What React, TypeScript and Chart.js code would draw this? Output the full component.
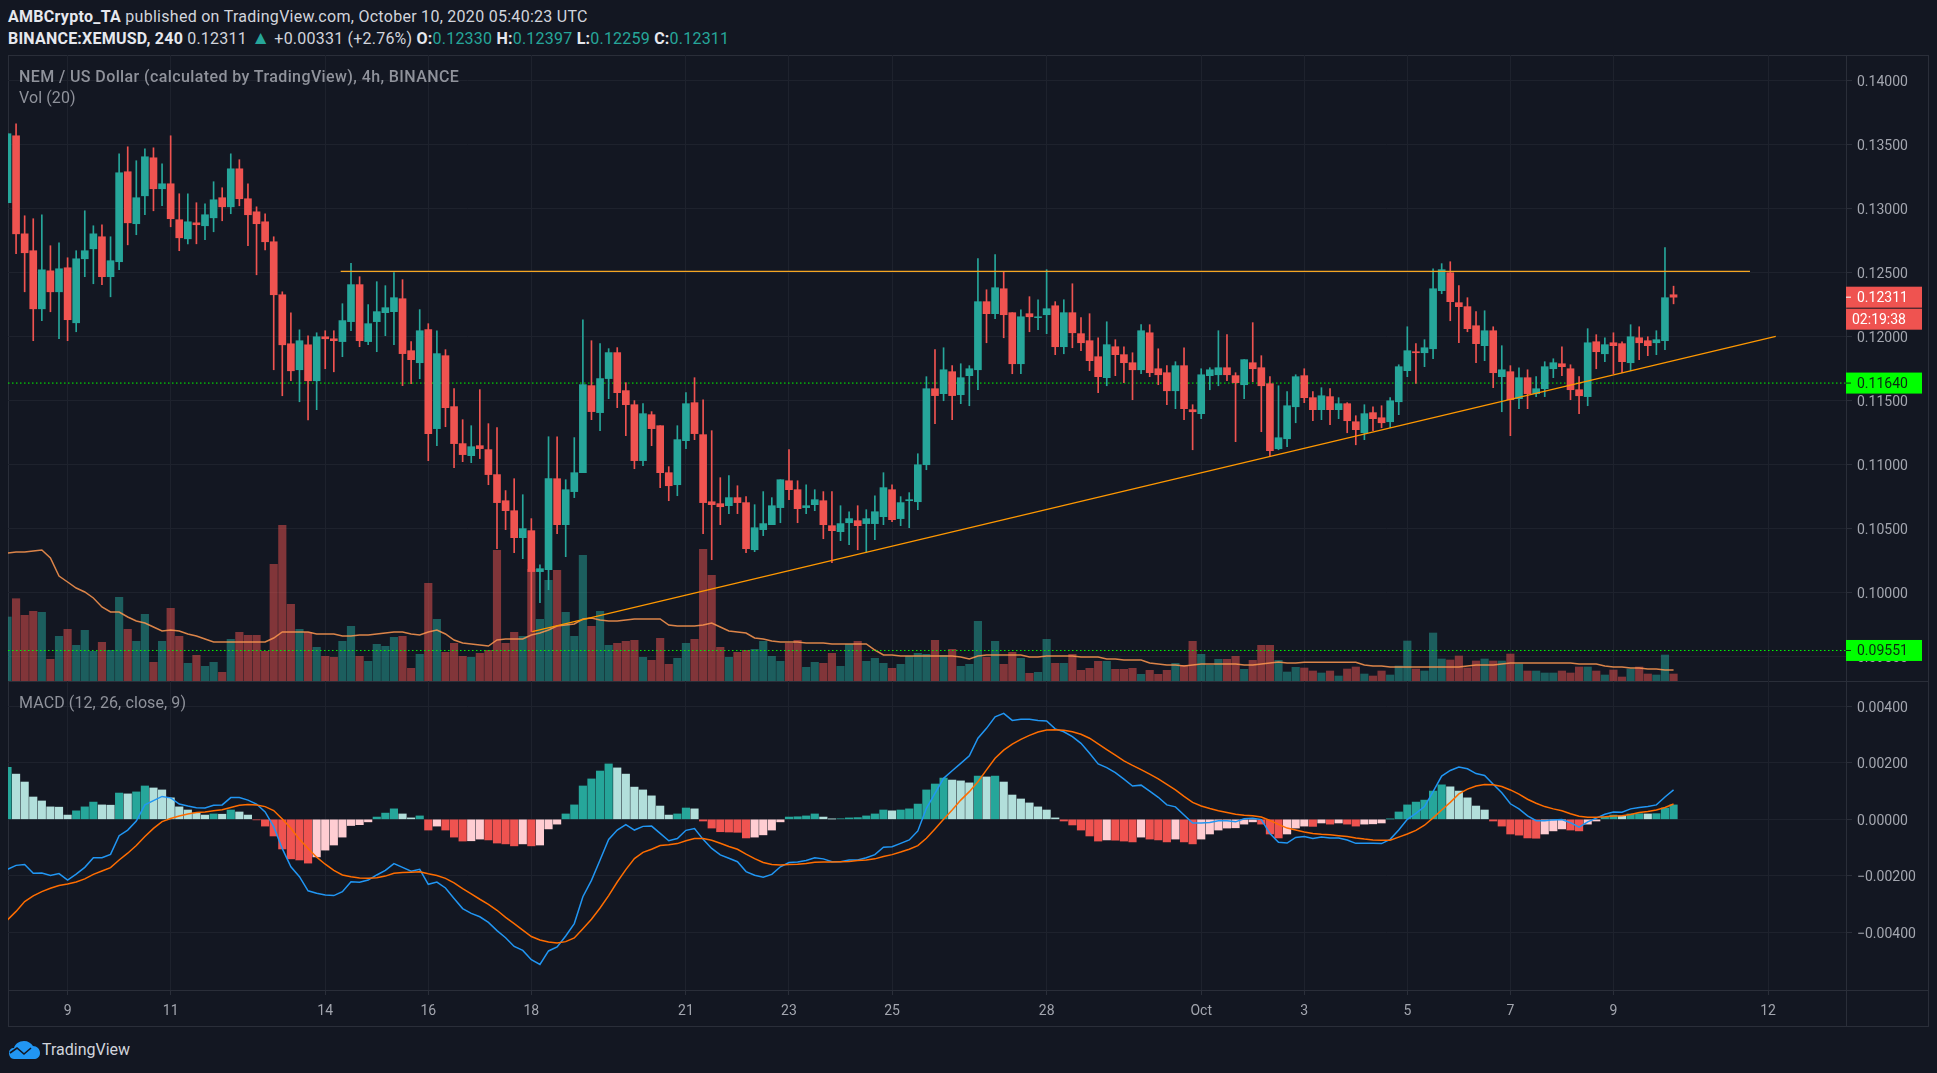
// App.tsx - NEM / US Dollar 4h chart with volume and MACD panes
import { useEffect, useRef } from 'react'
import { Chart, registerables } from 'chart.js'

Chart.register(...registerables)

// prices and MACD are kept in units of 0.00001 (the quote's fifth decimal)
const opens = [
  13049, 13572, 12806, 12674, 12220, 12517, 12353, 12541, 12111, 12611,
  12689, 12783, 12471, 12588, 13291, 12885, 13103, 13400, 13158, 13197,
  12916, 12767, 12892, 12869, 12931, 13088, 13017, 13314, 13080, 12978,
  12900, 12744, 12330, 11947, 11744, 11939, 11658, 12002, 11986, 11964,
  12120, 12409, 11964, 12120, 12190, 12198, 12299, 11893, 11799, 12057,
  11284, 11854, 11456, 11167, 11073, 11151, 11120, 10925, 10721, 10643,
  10432, 10487, 10167, 10182, 10893, 10534, 10792, 10940, 11620, 11409,
  11675, 11878, 11581, 11471, 11034, 11393, 11307, 10940, 10846, 11190,
  11487, 11237, 10713, 10698, 10682, 10745, 10706, 10338, 10495, 10534,
  10667, 10877, 10807, 10667, 10690, 10721, 10526, 10479, 10549, 10565,
  10542, 10542, 10596, 10807, 10581, 10721, 10713, 11002, 11596, 11557,
  11729, 11549, 11698, 11744, 12276, 12182, 12377, 12190, 11791, 12182,
  12151, 12174, 12244, 11924, 12190, 12026, 11971, 11846, 11682, 11924,
  11862, 11799, 11744, 12033, 11752, 11721, 11580, 11776, 11432, 11401,
  11698, 11705, 11760, 11698, 11627, 11799, 11760, 11635, 11127, 11205,
  11455, 11698, 11526, 11432, 11534, 11432, 11479, 11338, 11252, 11409,
  11369, 11338, 11494, 11737, 11885, 11877, 11908, 12362, 12502, 12268,
  12237, 12088, 11932, 12049, 11690, 11729, 11518, 11682, 11557, 11596,
  11752, 11791, 11752, 11588, 11534, 11963, 11869, 11955, 11948, 11799,
  11994, 11971, 11955, 11971, 12330,
]
const closes = [
  13588, 12806, 12658, 12220, 12525, 12353, 12533, 12135, 12611, 12674,
  12806, 12471, 12596, 13283, 12892, 13088, 13408, 13158, 13197, 12924,
  12775, 12900, 12877, 12955, 13072, 13017, 13314, 13080, 12955, 12885,
  12744, 12330, 11939, 11736, 11971, 11658, 12002, 11986, 11971, 12128,
  12409, 11971, 12104, 12198, 12229, 12307, 11870, 11823, 12049, 11245,
  11870, 11448, 11167, 11081, 11143, 11128, 10925, 10706, 10643, 10432,
  10503, 10167, 10190, 10893, 10534, 10807, 10940, 11628, 11417, 11675,
  11878, 11565, 11471, 11034, 11401, 11284, 10940, 10838, 11198, 11479,
  11245, 10706, 10690, 10674, 10745, 10706, 10346, 10510, 10542, 10682,
  10885, 10807, 10659, 10682, 10729, 10534, 10487, 10542, 10581, 10526,
  10581, 10635, 10823, 10573, 10706, 10729, 11002, 11596, 11542, 11744,
  11542, 11682, 11752, 12276, 12182, 12385, 12174, 11791, 12158, 12158,
  12158, 12221, 11924, 12190, 12033, 11955, 11815, 11690, 11940, 11862,
  11799, 11744, 12049, 11721, 11705, 11580, 11776, 11440, 11416, 11705,
  11744, 11760, 11705, 11643, 11823, 11752, 11619, 11112, 11213, 11463,
  11690, 11526, 11432, 11541, 11432, 11479, 11346, 11276, 11401, 11362,
  11330, 11502, 11768, 11893, 11877, 11916, 12377, 12526, 12276, 12237,
  12065, 11948, 12049, 11721, 11744, 11510, 11682, 11557, 11596, 11768,
  11799, 11768, 11588, 11541, 11955, 11885, 11940, 11932, 11807, 12002,
  11955, 11932, 11979, 12307, 12311,
]
const highs = [
  13588, 13666, 12947, 12924, 12955, 12713, 12736, 12619, 12674, 12986,
  12869, 12877, 12783, 13431, 13486, 13377, 13470, 13478, 13353, 13572,
  13119, 13119, 13049, 13041, 13213, 13166, 13431, 13385, 13197, 13017,
  12963, 12783, 12353, 12189, 12056, 12010, 12033, 12049, 12049, 12260,
  12576, 12471, 12253, 12432, 12401, 12503, 12448, 11964, 12214, 12104,
  12049, 11901, 11596, 11354, 11307, 11589, 11323, 11292, 10800, 10893,
  10768, 10581, 10221, 11221, 11221, 10885, 11214, 12135, 11971, 11948,
  11909, 11917, 11643, 11503, 11479, 11417, 11307, 10987, 11307, 11565,
  11682, 11510, 11268, 10901, 10917, 10838, 10753, 10690, 10792, 10745,
  10885, 11120, 10877, 10846, 10807, 10792, 10792, 10682, 10635, 10682,
  10651, 10760, 10940, 10846, 10753, 10784, 11088, 11690, 11901, 11916,
  11776, 11791, 11776, 12612, 12369, 12643, 12510, 12190, 12213, 12315,
  12291, 12526, 12276, 12291, 12416, 12151, 12182, 11994, 12119, 11979,
  11924, 11877, 12096, 12096, 11908, 11776, 11807, 11916, 11471, 11752,
  11760, 12049, 12018, 11721, 11823, 12112, 11854, 11690, 11619, 11573,
  11705, 11752, 11573, 11604, 11596, 11526, 11487, 11385, 11471, 11455,
  11463, 11526, 11783, 12080, 11948, 11979, 12533, 12573, 12588, 12401,
  12307, 12198, 12205, 12080, 11932, 11776, 11760, 11744, 11690, 11807,
  11830, 11924, 11783, 11690, 12065, 12018, 11994, 12033, 11963, 12096,
  12080, 12002, 12049, 12698, 12397,
]
const lows = [
  13049, 12650, 12353, 11971, 12127, 12197, 11986, 11971, 12041, 12471,
  12416, 12408, 12314, 12525, 12720, 12799, 12955, 12986, 13025, 12861,
  12674, 12728, 12728, 12760, 12822, 12908, 12963, 13025, 12713, 12486,
  12681, 11744, 11541, 11658, 11494, 11353, 11432, 11752, 11728, 11846,
  12049, 11924, 11940, 11885, 12010, 11940, 11620, 11635, 11674, 11034,
  11151, 11299, 10979, 11026, 11018, 11050, 10846, 10346, 10495, 10315,
  10268, 9698, 9925, 10026, 10464, 10284, 10745, 10940, 11354, 11268,
  11518, 11448, 11229, 10971, 10995, 11151, 10823, 10721, 10760, 11127,
  11198, 10463, 10260, 10534, 10620, 10620, 10315, 10323, 10448, 10534,
  10549, 10729, 10549, 10620, 10643, 10424, 10237, 10409, 10378, 10338,
  10315, 10417, 10534, 10557, 10526, 10510, 10651, 10963, 11323, 11502,
  11354, 11479, 11463, 11588, 11955, 12143, 11994, 11713, 11713, 12041,
  12057, 12026, 11862, 11869, 11916, 11893, 11737, 11565, 11619, 11698,
  11643, 11510, 11713, 11690, 11627, 11471, 11440, 11354, 11119, 11362,
  11588, 11619, 11658, 11182, 11518, 11651, 11260, 11067, 11119, 11143,
  11330, 11487, 11346, 11354, 11315, 11362, 11252, 11158, 11198, 11268,
  11291, 11291, 11393, 11690, 11638, 11768, 11830, 12338, 12127, 11955,
  12041, 11799, 11815, 11604, 11416, 11229, 11440, 11440, 11534, 11534,
  11682, 11698, 11510, 11401, 11463, 11752, 11807, 11713, 11721, 11737,
  11823, 11854, 11862, 11901, 12259,
]
// relative volume, the pane shows no axis for it
const volumes = [
  64, 82.3, 65.7, 69.7, 68.7, 21.7, 44.7, 51.7, 35.7, 50.7,
  29.7, 38.7, 30.7, 83.7, 51.7, 39.7, 66.7, 18.7, 39.7, 72.7,
  44.7, 17.7, 25.7, 14.7, 18.7, 8.7, 41.7, 48.7, 45.7, 45.7,
  29.7, 116.7, 155.7, 76.7, 51.7, 48.7, 33.7, 24.7, 23.7, 39.7,
  54.7, 24.7, 19.7, 36.7, 34.7, 43.7, 44.7, 12.7, 26.7, 97.7,
  61.7, 28.7, 37.7, 24.7, 23.7, 27.7, 30.7, 130.7, 37.7, 48.7,
  44.7, 111.7, 61.7, 100.7, 110.7, 68.7, 44.7, 125.7, 54.7, 69.7,
  35.7, 37.7, 39.7, 40.7, 23.7, 20.7, 42.7, 16.7, 22.7, 37.7,
  41.7, 131.7, 105.7, 33.7, 23.7, 28.7, 30.7, 31.7, 39.7, 24.7,
  19.7, 37.7, 40.7, 13.7, 18.7, 17.7, 27.7, 14.7, 36.7, 39.7,
  19.7, 22.7, 17.7, 12.7, 16.7, 24.7, 27.7, 26.7, 40.7, 25.7,
  31.7, 14.7, 16.7, 59.7, 23.7, 39.7, 16.7, 28.7, 22.7, 7.7,
  8.7, 41.7, 17.7, 17.7, 26.7, 10.7, 12.7, 19.7, 19.7, 11.7,
  11.7, 12.7, 6.7, 10.7, 6.7, 10.7, 17.7, 15.7, 39.7, 26.7,
  15.7, 21.7, 21.7, 24.7, 11.7, 20.7, 35.7, 35.7, 20.7, 9,
  13.7, 13, 10, 8, 10, 5, 12, 14, 7, 5,
  10, 6, 15, 40, 12, 10, 48, 22, 21, 25,
  13, 20, 22, 20, 20, 27, 17, 10, 10, 8,
  8, 10, 8, 14, 14, 10, 6, 11, 4, 12,
  14, 7, 6, 26, 7,
]
const volumeMa = [
  128, 129, 129, 130, 131, 123, 105, 99, 93, 89,
  83, 74, 69, 69, 64, 60, 58, 54, 50, 51,
  50, 47, 45, 42, 39, 39, 39, 39, 39, 39,
  39, 43, 49, 49, 49, 49, 47, 47, 47, 45,
  45, 46, 46, 47, 48, 49, 49, 47, 46, 49,
  51, 47, 41, 38, 37, 36, 35, 41, 42, 42,
  42, 46, 48, 51, 55, 56, 57, 62, 63, 61,
  60, 60, 61, 62, 62, 62, 62, 56, 55, 55,
  55, 56, 58, 54, 50, 49, 48, 43, 42, 40,
  39, 39, 39, 38, 38, 38, 37, 37, 37, 37,
  37, 31, 26, 26, 25, 25, 25, 25, 25, 25,
  25, 24, 22, 25, 26, 26, 26, 26, 26, 24,
  24, 25, 25, 25, 25, 24, 24, 24, 22, 22,
  21, 21, 21, 18, 17, 16, 16, 15, 16, 17,
  17, 17, 17, 17, 16, 16, 17, 18, 19, 18,
  18, 18.7, 18.7, 18.7, 18.7, 18.7, 18.7, 18.7, 16, 15,
  15, 14, 14, 14, 14, 14, 14, 14, 14, 14,
  15, 16, 16, 16, 17, 18, 18, 18, 18, 18,
  18, 18, 18, 17, 17, 17, 15, 14, 14, 13,
  13, 12, 12, 11, 11,
]
const macdHist = [
  184, 160, 132, 79, 65, 44, 43, 15, 30, 44,
  61, 51, 50, 93, 90, 97, 118, 111, 104, 76,
  44, 33, 22, 15, 19, 18, 33, 26, 15, -2,
  -24, -59, -105, -140, -144, -155, -133, -109, -91, -63,
  -22, -19, -9, 8, 22, 37, 19, 5, 12, -38,
  -24, -38, -63, -77, -76, -70, -73, -84, -87, -94,
  -87, -94, -91, -34, -17, 19, 51, 118, 143, 171,
  196, 182, 160, 114, 104, 83, 47, 15, 19, 40,
  37, -6, -31, -44, -45, -46, -66, -63, -55, -38,
  -9, 8, 9, 12, 19, 8, 1, 2, 5, 6,
  12, 19, 33, 30, 33, 37, 54, 104, 125, 146,
  139, 136, 129, 153, 150, 153, 132, 86, 72, 58,
  44, 33, 5, -6, -20, -38, -59, -77, -73, -74,
  -77, -80, -63, -70, -73, -80, -70, -80, -87, -70,
  -52, -38, -31, -30, -17, -9, -17, -52, -66, -52,
  -31, -24, -25, -13, -17, -13, -17, -24, -17, -16,
  -13, 1, 26, 51, 61, 68, 100, 122, 115, 100,
  76, 47, 33, -6, -24, -52, -56, -66, -67, -52,
  -41, -34, -38, -41, -17, -6, 8, 15, 12, 19,
  20, 19, 20, 40, 51,
]
const macdLine = [
  -177, -163, -160, -191, -190, -199, -192, -215, -194, -170,
  -136, -136, -124, -58, -38, -6, 51, 66, 81, 76,
  54, 47, 41, 40, 50, 51, 77, 77, 68, 54,
  26, -26, -104, -168, -203, -253, -262, -268, -270, -256,
  -221, -223, -215, -197, -181, -157, -170, -184, -177, -230,
  -222, -243, -280, -316, -333, -345, -365, -394, -419, -450,
  -464, -497, -514, -466, -452, -413, -369, -274, -216, -144,
  -71, -38, -19, -38, -25, -24, -50, -76, -68, -39,
  -33, -71, -103, -126, -138, -150, -185, -198, -205, -195,
  -168, -153, -151, -146, -136, -140, -150, -150, -144, -144,
  -136, -125, -99, -97, -85, -73, -41, 39, 92, 145,
  172, 198, 225, 287, 322, 363, 375, 350, 354, 354,
  350, 348, 320, 310, 293, 269, 234, 196, 183, 165,
  142, 118, 121, 100, 78, 51, 44, 15, -13, -13,
  -11, -5, -5, -9, 2, 4, -1, -50, -81, -84,
  -64, -61, -68, -63, -66, -66, -73, -85, -85, -85,
  -86, -71, -38, 0, 21, 45, 98, 153, 173, 185,
  179, 162, 155, 124, 94, 55, 37, 12, -5, -5,
  -2, -1, -12, -28, -9, 4, 18, 26, 25, 37,
  42, 45, 51, 79, 104,
]
const signalLine = [
  -356, -326, -291, -271, -256, -244, -234, -229, -222, -211,
  -195, -183, -171, -144, -120, -93, -61, -32, -8, 3,
  12, 19, 24, 26, 30, 34, 42, 50, 52, 51,
  45, 31, 1, -32, -71, -103, -134, -159, -181, -197,
  -203, -208, -209, -207, -201, -191, -188, -187, -186, -193,
  -199, -209, -225, -245, -264, -283, -301, -322, -347, -369,
  -392, -415, -427, -434, -438, -433, -420, -387, -354, -314,
  -270, -222, -178, -139, -117, -106, -93, -90, -86, -76,
  -68, -68, -74, -85, -96, -106, -123, -139, -153, -160,
  -162, -160, -159, -156, -152, -151, -151, -150, -149, -146,
  -144, -140, -132, -125, -116, -106, -93, -67, -34, 0,
  33, 68, 98, 133, 175, 216, 245, 266, 283, 297,
  309, 316, 317, 315, 310, 301, 287, 267, 247, 227,
  207, 191, 176, 160, 143, 124, 104, 81, 60, 47,
  38, 30, 24, 18, 14, 13, 8, -4, -18, -31,
  -38, -45, -50, -53, -55, -58, -61, -66, -70, -73,
  -74, -74, -63, -52, -39, -21, 5, 33, 60, 90,
  107, 118, 123, 122, 116, 104, 89, 71, 57, 45,
  37, 30, 20, 11, 7, 7, 9, 12, 13, 17,
  24, 28, 33, 42, 54,
]

// x is the bar number, one bar every 4 hours
const timeTickBars = [7, 19, 37, 49, 61, 79, 91, 103, 121, 139, 151, 163, 175, 187, 205]
const timeTickLabels = ['9', '11', '14', '16', '18', '21', '23', '25', '28', 'Oct', '3', '5', '7', '9', '12']
const priceTicks = [14000, 13500, 13000, 12500, 12000, 11500, 11000, 10500, 10000, 9500]
const macdTicks = [400, 200, 0, -200, -400]

const resistance = [{ x: 38.8, y: 12513 }, { x: 202.9, y: 12513 }]
const trendLine = [{ x: 61.1, y: 9698 }, { x: 205.9, y: 12005 }]
const supportLevel = 11640
const lowerLevel = 9551
const lastPrice = 12311
const countdown = '02:19:38'

const BG = '#131722'
const GRID = '#1e222d'
const FRAME = '#2a2e39'
const UP = '#26a69a'
const DOWN = '#ef5350'
const AXIS_TEXT = '#a3a6af'
const AXIS_FONT = { family: 'Roboto', size: 14 }
const X_MIN = 0.06
const X_MAX = 214.08

const fmt = (v: number) => (v < 0 ? '\u2212' : '') + (Math.abs(v) / 1e5).toFixed(5)
const bars = opens.map((_, i) => i)

// price tags sitting on top of the right axis
const priceTags = {
  id: 'priceTags',
  afterDraw(chart: Chart) {
    const { ctx, chartArea } = chart
    const y = chart.scales.y
    const left = chartArea.right
    const tag = (center: number, text: string, bg: string, fg: string, textX: number, tick: boolean) => {
      ctx.fillStyle = bg
      ctx.fillRect(left, center - 10.5, 76, 21)
      if (tick) {
        ctx.fillStyle = fg
        ctx.fillRect(left, center - 0.5, 5, 1)
      }
      ctx.fillStyle = fg
      ctx.font = '14px Roboto'
      ctx.textAlign = 'left'
      ctx.textBaseline = 'middle'
      ctx.fillText(text, left + textX, center + 1.5)
    }
    ctx.save()
    tag(y.getPixelForValue(lastPrice), fmt(lastPrice), DOWN, '#ffffff', 11, true)
    tag(y.getPixelForValue(lastPrice) + 22, countdown, DOWN, '#ffffff', 6, false)
    tag(y.getPixelForValue(supportLevel), fmt(supportLevel), '#00ff00', '#0b2a12', 11, true)
    tag(y.getPixelForValue(lowerLevel), fmt(lowerLevel), '#00ff00', '#0b2a12', 11, true)
    ctx.restore()
  },
}

function xScale(showLabels: boolean) {
  return {
    type: 'linear' as const,
    min: X_MIN,
    max: X_MAX,
    offset: false,
    border: { display: false },
    grid: { color: GRID, offset: false, drawTicks: showLabels, tickColor: FRAME, tickLength: 5 },
    afterBuildTicks: (scale: any) => {
      scale.ticks = timeTickBars.map((value) => ({ value }))
    },
    afterFit: (scale: any) => {
      scale.height = showLabels ? 36 : 0
      scale.paddingLeft = 0
      scale.paddingRight = 0
    },
    ticks: {
      display: showLabels,
      autoSkip: false,
      maxRotation: 0,
      color: AXIS_TEXT,
      font: AXIS_FONT,
      padding: 8,
      callback: (value: any) => timeTickLabels[timeTickBars.indexOf(value)] ?? '',
    },
  }
}

function yScale(min: number, max: number, tickValues: number[]) {
  return {
    position: 'right' as const,
    min,
    max,
    border: { display: false },
    grid: { color: GRID, tickColor: FRAME, tickLength: 6 },
    afterBuildTicks: (scale: any) => {
      scale.ticks = tickValues.map((value) => ({ value }))
    },
    afterFit: (scale: any) => {
      scale.width = 83
      scale.paddingTop = 0
      scale.paddingBottom = 0
    },
    ticks: {
      autoSkip: false,
      color: AXIS_TEXT,
      font: AXIS_FONT,
      padding: 5,
      labelOffset: 2,
      callback: (value: any) => fmt(value),
    },
  }
}

function flatLine(level: number) {
  return {
    type: 'line' as const,
    data: [{ x: X_MIN, y: level }, { x: X_MAX, y: level }],
    borderColor: '#00ff00',
    borderWidth: 1,
    borderDash: [1.5, 2.5],
    pointRadius: 0,
    order: 4,
    yAxisID: 'y',
  }
}

function drawnLine(points: { x: number; y: number }[], color: string, width: number) {
  return {
    type: 'line' as const,
    data: points,
    borderColor: color,
    borderWidth: width,
    pointRadius: 0,
    order: 0,
    yAxisID: 'y',
  }
}

function priceConfig(): any {
  const candleColors = bars.map((i) => (closes[i] >= opens[i] ? UP : DOWN))
  const volumeColors = bars.map((i) => (closes[i] >= opens[i] ? 'rgba(38,166,154,0.5)' : 'rgba(239,83,80,0.5)'))
  return {
    type: 'bar',
    data: {
      datasets: [
        drawnLine(resistance, '#f5a623', 1.2),
        drawnLine(trendLine, '#ff9800', 1.2),
        {
          data: bars.map((i) => ({ x: i, y: [opens[i], closes[i]] })),
          backgroundColor: candleColors,
          barThickness: 7,
          grouped: false,
          order: 1,
          yAxisID: 'y',
        },
        {
          data: bars.map((i) => ({ x: i, y: [lows[i], highs[i]] })),
          backgroundColor: candleColors,
          barThickness: 1,
          grouped: false,
          order: 2,
          yAxisID: 'y',
        },
        flatLine(supportLevel),
        flatLine(lowerLevel),
        {
          type: 'line',
          data: bars.map((i) => ({ x: i, y: volumeMa[i] })),
          borderColor: 'rgba(255,152,80,0.85)',
          borderWidth: 1.5,
          pointRadius: 0,
          order: 5,
          yAxisID: 'yVol',
        },
        {
          data: bars.map((i) => ({ x: i, y: volumes[i] })),
          backgroundColor: volumeColors,
          barThickness: 7.5,
          grouped: false,
          order: 6,
          yAxisID: 'yVol',
        },
      ],
    },
    options: {
      animation: false,
      responsive: false,
      layout: { padding: 0 },
      plugins: { legend: { display: false }, tooltip: { enabled: false } },
      scales: {
        x: xScale(false),
        y: yScale(9312.5, 14203, priceTicks),
        yVol: { display: false, min: 0, max: 626 },
      },
    },
    plugins: [priceTags],
  }
}

function macdConfig(): any {
  const histColors = macdHist.map((v, i) => {
    const rising = i === 0 || v >= macdHist[i - 1]
    if (v >= 0) return rising ? UP : '#b2dfdb'
    return rising ? '#ffcdd2' : DOWN
  })
  return {
    type: 'bar',
    data: {
      datasets: [
        {
          type: 'line',
          data: bars.map((i) => ({ x: i, y: macdLine[i] })),
          borderColor: '#2196f3',
          borderWidth: 1.5,
          pointRadius: 0,
          order: 1,
        },
        {
          type: 'line',
          data: bars.map((i) => ({ x: i, y: signalLine[i] })),
          borderColor: '#ff6d00',
          borderWidth: 1.5,
          pointRadius: 0,
          order: 0,
        },
        {
          data: bars.map((i) => ({ x: i, y: macdHist[i] })),
          backgroundColor: histColors,
          barThickness: 7.5,
          grouped: false,
          order: 2,
        },
      ],
    },
    options: {
      animation: false,
      responsive: false,
      layout: { padding: 0 },
      plugins: { legend: { display: false }, tooltip: { enabled: false } },
      scales: {
        x: xScale(true),
        y: yScale(-604.2, 489.6, macdTicks),
      },
    },
  }
}

const textBase = { position: 'absolute', whiteSpace: 'nowrap', fontFamily: 'Roboto, sans-serif' } as const
const line = (left: number, top: number, width: number, height: number) =>
  ({ position: 'absolute', left, top, width, height, background: FRAME }) as const

export default function App() {
  const priceRef = useRef<HTMLCanvasElement>(null)
  const macdRef = useRef<HTMLCanvasElement>(null)

  useEffect(() => {
    if (!priceRef.current || !macdRef.current) return
    const priceChart = new Chart(priceRef.current, priceConfig())
    const macdChart = new Chart(macdRef.current, macdConfig())
    return () => {
      priceChart.destroy()
      macdChart.destroy()
    }
  }, [])

  const ohlc = { color: UP }
  return (
    <div style={{ position: 'fixed', left: 0, top: 0, width: 1937, height: 1073, background: BG, overflow: 'hidden' }}>
      <div style={{ ...textBase, left: 8, top: 7, fontSize: 16, letterSpacing: 0.28, color: '#d1d4dc', lineHeight: '20px' }}>
        <b style={{ color: '#e6e8ee' }}>AMBCrypto_TA</b> published on TradingView.com, October 10, 2020 05:40:23 UTC
      </div>
      <div style={{ ...textBase, left: 8, top: 29, fontSize: 16, letterSpacing: 0.22, color: '#d1d4dc', lineHeight: '20px' }}>
        <b style={{ color: '#e6e8ee' }}>BINANCE:XEMUSD, 240</b> 0.12311 <span style={{ color: UP, fontSize: 19, lineHeight: 0 }}>▲</span> +0.00331 (+2.76%){' '}
        <b style={{ color: '#e6e8ee' }}>O:</b><span style={ohlc}>0.12330</span>{' '}
        <b style={{ color: '#e6e8ee' }}>H:</b><span style={ohlc}>0.12397</span>{' '}
        <b style={{ color: '#e6e8ee' }}>L:</b><span style={ohlc}>0.12259</span>{' '}
        <b style={{ color: '#e6e8ee' }}>C:</b><span style={ohlc}>0.12311</span>
      </div>

      {/* frame around the panes */}
      <div style={line(8, 55, 1921, 1)} />
      <div style={line(8, 55, 1, 971)} />
      <div style={line(1928, 55, 1, 971)} />
      <div style={line(8, 1026, 1921, 1)} />
      <div style={line(8, 681, 1921, 1)} />
      <div style={line(8, 990, 1921, 1)} />
      <div style={line(1846, 55, 1, 971)} />

      <canvas ref={priceRef} width={1921} height={626} style={{ position: 'absolute', left: 8, top: 55 }} />
      <canvas ref={macdRef} width={1921} height={345} style={{ position: 'absolute', left: 8, top: 681 }} />

      <div style={{ ...textBase, left: 19, top: 67, fontSize: 16, fontWeight: 500, letterSpacing: 0.4, color: '#8f929b', lineHeight: '20px' }}>
        NEM / US Dollar (calculated by TradingView), 4h, BINANCE
      </div>
      <div style={{ ...textBase, left: 19, top: 88, fontSize: 16, letterSpacing: 0.1, color: '#8f929b', lineHeight: '20px' }}>Vol (20)</div>
      <div style={{ ...textBase, left: 19, top: 693, fontSize: 16, letterSpacing: 0.1, color: '#8f929b', lineHeight: '20px' }}>MACD (12, 26, close, 9)</div>

      <svg width={33} height={20} viewBox="0 0 33 20" style={{ position: 'absolute', left: 8, top: 1040 }}>
        <path d="M1 13c0-3 2-5 5-5 1-4 5-7 10-7 4 0 7 2 9 5 4 0 7 3 7 7 0 4-3 6-6 6H6c-3 0-5-3-5-6z" fill="#2196f3" />
        <path d="M2 13l7-5 7 6 7-6" stroke={BG} strokeWidth={1.6} fill="none" />
      </svg>
      <div style={{ ...textBase, left: 42, top: 1040, fontSize: 16, color: '#d1d4dc', lineHeight: '20px' }}>TradingView</div>
    </div>
  )
}
